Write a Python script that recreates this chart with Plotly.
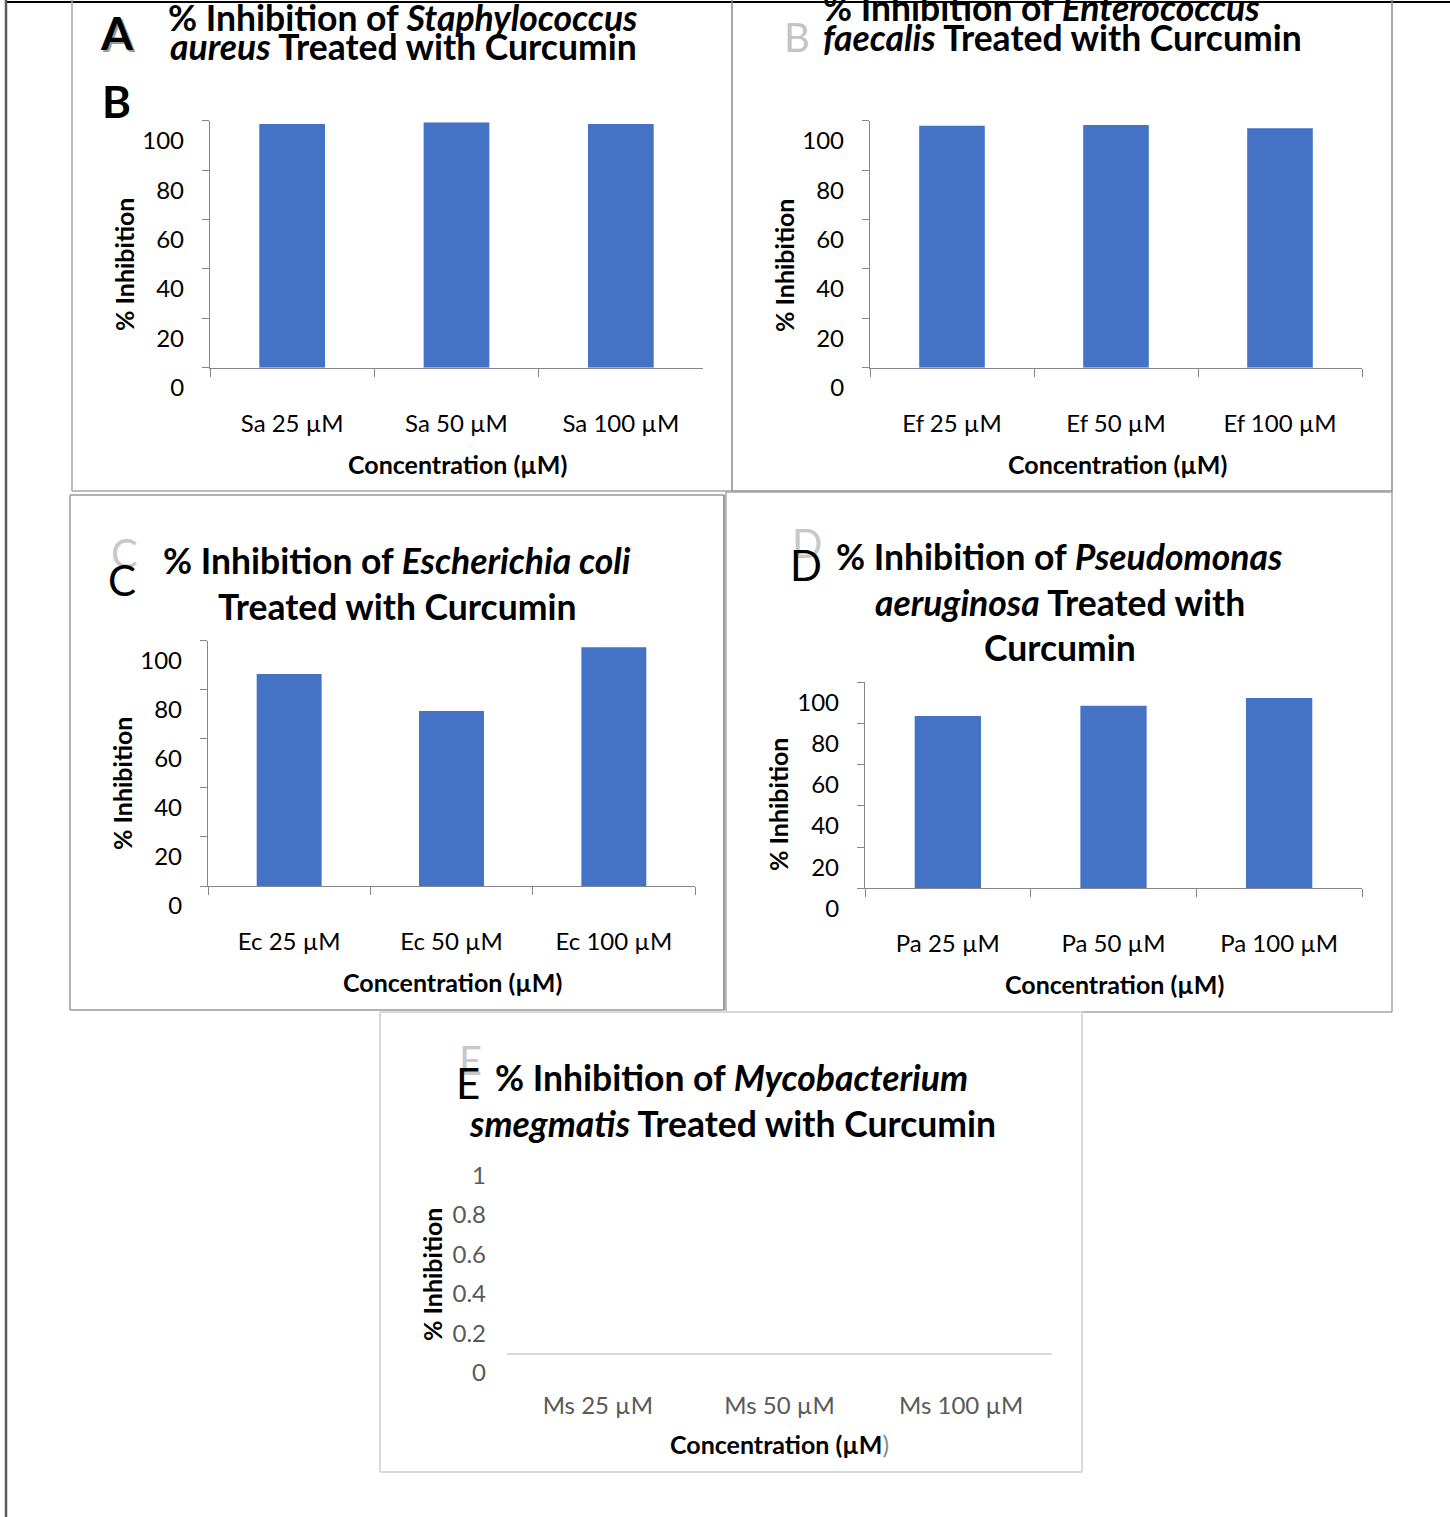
import plotly.graph_objects as go

# ---------------- data ----------------
sa_categories = ["Sa 25 µM", "Sa 50 µM", "Sa 100 µM"]
sa_values = [98.7, 99.3, 98.7]

ef_categories = ["Ef 25 µM", "Ef 50 µM", "Ef 100 µM"]
ef_values = [98.0, 98.3, 96.9]

ec_categories = ["Ec 25 µM", "Ec 50 µM", "Ec 100 µM"]
ec_values = [86.4, 71.3, 97.3]

pa_categories = ["Pa 25 µM", "Pa 50 µM", "Pa 100 µM"]
pa_values = [83.6, 88.6, 92.4]

ms_categories = ["Ms 25 µM", "Ms 50 µM", "Ms 100 µM"]
ms_values = [0, 0, 0]

W, H = 1450, 1517
FONT = "Lato"
BAR = "#4472C4"


def fx(px):
    return px / W


def fy(py):
    return 1 - py / H


fig = go.Figure()

# panel geometry in pixels: (x0, x1, ytop, ybottom)
panels = [
    (sa_categories, sa_values, (210, 703, 120.7, 367.7), [0, 100], 20, "normal"),
    (ef_categories, ef_values, (870, 1362, 120.7, 367.7), [0, 100], 20, "normal"),
    (ec_categories, ec_values, (208, 695, 640.7, 886), [0, 100], 20, "normal"),
    (pa_categories, pa_values, (865, 1362, 682.3, 888.3), [0, 100], 20, "normal"),
    (ms_categories, ms_values, (507, 1052, 1155.5, 1353), [0, 1], 0.2, "empty"),
]

TICK = 24
for i, (cats, vals, (x0, x1, yt, yb), rng, dt, kind) in enumerate(panels):
    n = "" if i == 0 else str(i + 1)
    fig.add_trace(go.Bar(
        x=cats, y=vals, width=0.4, marker=dict(color=BAR, line=dict(width=0)),
        xaxis="x" + n, yaxis="y" + n, showlegend=False, hoverinfo="x+y"))
    tick_col = "#000000" if kind == "normal" else "#595959"
    xa = dict(domain=[fx(x0), fx(x1)], anchor="y" + n, type="category",
              showgrid=False, zeroline=False, automargin=False,
              tickfont=dict(family=FONT, size=TICK, color=tick_col),
              ticklabelstandoff=34, fixedrange=True)
    ya = dict(domain=[fy(yb), fy(yt)], anchor="x" + n, range=rng, dtick=dt,
              showgrid=False, zeroline=False, automargin=False,
              tickfont=dict(family=FONT, size=TICK, color=tick_col),
              ticklabelshift=20, ticklabelstandoff=13, fixedrange=True)
    if kind == "normal":
        xa.update(showline=True, linecolor="#868686", linewidth=1.3,
                  ticks="outside", ticklen=8, tickcolor="#868686",
                  tickson="boundaries")
        ya.update(showline=True, linecolor="#868686", linewidth=1.3,
                  ticks="outside", ticklen=7, tickcolor="#868686")
    else:
        xa.update(showline=True, linecolor="#D9D9D9", linewidth=2, ticks="",
                  ticklabelstandoff=30)
        ya.update(showline=False, ticks="", ticklabelstandoff=20)
    fig.layout["xaxis" + n] = xa
    fig.layout["yaxis" + n] = ya

annotations = []


def txt(text, x, y, size, color="#000000", xanchor="center", textangle=0, family=FONT):
    annotations.append(dict(
        text=text, x=fx(x), y=fy(y), xref="paper", yref="paper",
        xanchor=xanchor, yanchor="middle", showarrow=False, textangle=textangle,
        font=dict(family=family, size=size, color=color)))


TS = 35.5
# Panel A
txt("<b>% Inhibition of <i>Staphylococcus</i></b>", 166, 18, TS, xanchor="left")
txt("<b><i>aureus</i> Treated with Curcumin</b>", 168, 47, TS, xanchor="left")
txt("<b>A</b>", 119, 35, 46, color="#9a9a9a")
txt("<b>A</b>", 117, 33, 46)
txt("<b>B</b>", 116, 101, 44)
# Panel B
txt("<b>% Inhibition of <i>Enterococcus</i></b>", 821, 8, TS, xanchor="left")
txt("<b><i>faecalis</i> Treated with Curcumin</b>", 821, 37, TS, xanchor="left")
txt("B", 797, 37, 40, color="#c4c4c4")
# Panel C
txt("<b>% Inhibition of <i>Escherichia coli</i></b>", 397, 560, TS)
txt("<b>Treated with Curcumin</b>", 397, 606, TS)
txt("C", 124, 553, 40, color="#c8c8c8")
txt("C", 122, 580, 42)
# Panel D
txt("<b>% Inhibition of <i>Pseudomonas</i></b>", 834, 557, TS, xanchor="left")
txt("<b><i>aeruginosa</i> Treated with</b>", 1060, 602, TS)
txt("<b>Curcumin</b>", 1060, 647, TS)
txt("D", 807, 543, 40, color="#c8c8c8")
txt("D", 806, 565, 42)
# Panel E
txt("<b>% Inhibition of <i>Mycobacterium</i></b>", 493, 1077, TS, xanchor="left")
txt("<b><i>smegmatis</i> Treated with Curcumin</b>", 732, 1123, TS)
txt("E", 470, 1060, 40, color="#c8c8c8")
txt("E", 468, 1083, 42)

# axis titles
for (x, y) in [(124, 265), (784, 265), (122, 784), (778, 805), (432, 1274)]:
    txt("<b>% Inhibition</b>", x, y, 25, textangle=-90)
for (x, y) in [(457, 464), (1117, 464), (452, 982), (1114, 984)]:
    txt("<b>Concentration (µM)</b>", x, y, 25)
txt("<b>Concentration (µM</b><span style='color:#8c8c8c'>)</span>", 779, 1444, 25)

# frames & borders
shapes = []


def line(x0, y0, x1, y1, color, width):
    shapes.append(dict(type="line", xref="paper", yref="paper",
                       x0=fx(x0), y0=fy(y0), x1=fx(x1), y1=fy(y1),
                       line=dict(color=color, width=width)))


# outer page borders
line(6, 2, 1450, 2, "#000000", 2)
line(6, 0, 6, 1517, "#5a5a5a", 2.5)
# panel A frame
line(72, 0, 72, 491, "#a6a6a6", 1.5)
line(72, 491, 732, 491, "#a6a6a6", 1.5)
# panel B frame
line(732, 0, 732, 491, "#8c8c8c", 1.5)
line(1392, 0, 1392, 492, "#8c8c8c", 1.5)
line(732, 491, 1392, 491, "#8c8c8c", 1.5)
# panel C frame
line(70, 495, 724, 495, "#9a9a9a", 1.5)
line(70, 495, 70, 1010, "#9a9a9a", 1.5)
line(724, 495, 724, 1010, "#9a9a9a", 2)
line(70, 1010, 724, 1010, "#9a9a9a", 1.5)
# panel D frame
line(726, 492, 1392, 492, "#a6a6a6", 1.5)
line(726, 492, 726, 1012, "#a6a6a6", 1.5)
line(1392, 492, 1392, 1012, "#a6a6a6", 1.5)
line(726, 1012, 1392, 1012, "#a6a6a6", 1.5)
# panel E frame
line(380, 1012, 1082, 1012, "#d9d9d9", 2)
line(380, 1012, 380, 1472, "#d9d9d9", 2)
line(1082, 1012, 1082, 1472, "#d9d9d9", 2)
line(380, 1472, 1082, 1472, "#d9d9d9", 2)

fig.update_layout(
    width=W, height=H, margin=dict(l=0, r=0, t=0, b=0, autoexpand=False),
    paper_bgcolor="white", plot_bgcolor="rgba(0,0,0,0)",
    annotations=annotations, shapes=shapes, bargap=0.6,
    font=dict(family=FONT),
)

fig.write_html("out.html", config={"displayModeBar": False},
               post_script="document.body.style.margin='0';document.body.style.padding='0';")
